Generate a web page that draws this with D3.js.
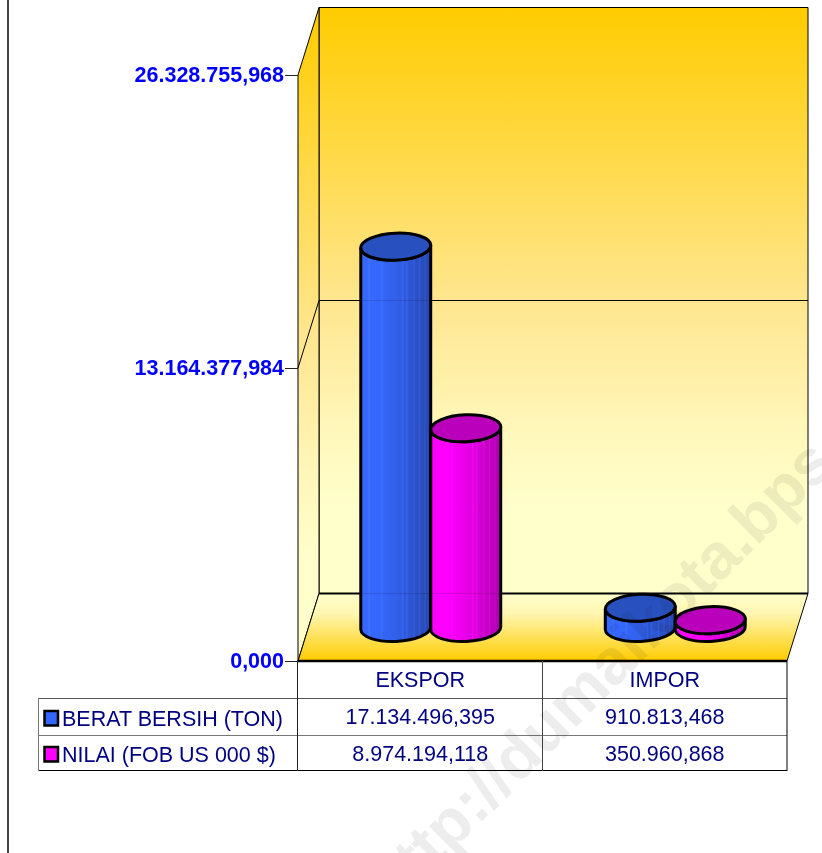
<!DOCTYPE html>
<html>
<head>
<meta charset="utf-8">
<script src="https://d3js.org/d3.v7.min.js"></script>
<style>
  html, body { margin: 0; padding: 0; background: #fff; }
  svg { display: block; }
  text { font-family: "Liberation Sans", Arial, sans-serif; }
</style>
</head>
<body>
<svg id="chart"></svg>
<script>
const categories = ["EKSPOR", "IMPOR"];
const seriesNames = ["BERAT BERSIH (TON)", "NILAI (FOB US 000 $)"];
const beratValues = [17134496395, 910813468];
const nilaiValues = [8974194118, 350960868];
const beratLabels = ["17.134.496,395", "910.813,468"];
const nilaiLabels = ["8.974.194,118", "350.960,868"];
const tickValues = [0, 13164377984, 26328755968];
const tickLabels = ["0,000", "13.164.377,984", "26.328.755,968"];

const width = 822;
const height = 853;
const front = { left: 298, right: 787, top: 75, bottom: 661 };
const depth = { x: 21, y: -67.5 };
const rx = 35, ry = 13.5, tilt = -2.5;

const svg = d3.select("#chart").attr("width", width).attr("height", height);
const defs = svg.append("defs");

const y = d3.scaleLinear().domain([0, 26328755968]).range([front.bottom, front.top]);
const x = d3.scaleBand().domain(categories).range([front.left, front.right]);
const xSeries = d3.scaleBand().domain(seriesNames).range([-2 * rx, 2 * rx]);

// background gradients
const wallGrad = defs.append("linearGradient").attr("id", "wall").attr("x2", 0).attr("y2", 1);
[[0, "#FFCC00"], [0.5, "#FFE68F"], [0.72, "#FFF7BA"], [0.86, "#FFFFCC"], [1, "#FFFFCC"]].forEach((s) => {
  wallGrad.append("stop").attr("offset", s[0]).attr("stop-color", s[1]);
});
const floorGrad = defs.append("linearGradient").attr("id", "floor").attr("x2", 0).attr("y2", 1);
floorGrad.append("stop").attr("offset", 0).attr("stop-color", "#FFFFCC");
floorGrad.append("stop").attr("offset", 0.3).attr("stop-color", "#FFF6B0");
floorGrad.append("stop").attr("offset", 1).attr("stop-color", "#FFCC00");

// cylinder body gradients, with the thin lighter strips
function bodyGradient(id, light, dark) {
  const g = defs.append("linearGradient").attr("id", id);
  const mix = d3.scaleLinear().domain([0, 0.2, 0.5, 1]).range([light, light, d3.interpolateRgb(light, dark)(0.25), dark]);
  const strips = [0.12, 0.3, 0.6, 0.66, 0.76, 0.84, 0.92];
  d3.range(0, 1.001, 0.02).forEach((t) => {
    const strip = strips.some((s) => Math.abs(s - t) < 0.005);
    const c = strip ? d3.color(mix(t)).brighter(0.35) : d3.color(mix(t));
    g.append("stop").attr("offset", t).attr("stop-color", c.formatHex());
  });
}
bodyGradient("body0", "#3668FF", "#2747AC");
bodyGradient("body1", "#FF00FF", "#AA00AA");

// walls and floor
const fl = front.left, fr = front.right, ft = front.top, fb = front.bottom;
const dx = depth.x, dy = depth.y;
const poly = (pts) => "M" + pts.map((p) => p.join(",")).join("L") + "Z";

svg.append("path").attr("d", poly([[fl + dx, ft + dy], [fr + dx, ft + dy], [fr + dx, fb + dy], [fl + dx, fb + dy]]))
  .attr("fill", "url(#wall)").attr("stroke", "#000").attr("stroke-width", 1);
svg.append("path").attr("d", poly([[fl, ft], [fl + dx, ft + dy], [fl + dx, fb + dy], [fl, fb]]))
  .attr("fill", "url(#wall)").attr("stroke", "#000").attr("stroke-width", 1);
svg.append("path").attr("d", poly([[fl, fb], [fl + dx, fb + dy], [fr + dx, fb + dy], [fr, fb]]))
  .attr("fill", "url(#floor)").attr("stroke", "#000").attr("stroke-width", 1);

// gridline at the middle tick
const gridLine = d3.line();
function drawGrid(v) {
  svg.append("path")
    .attr("d", gridLine([[fl, y(v)], [fl + dx, y(v) + dy], [fr + dx, y(v) + dy]]))
    .attr("fill", "none").attr("stroke", "#000").attr("stroke-width", 1);
}
drawGrid(tickValues[1]);

// back edge of the floor is heavier than the wall outline
svg.append("line").attr("x1", fl + dx).attr("x2", fr + dx).attr("y1", fb + dy).attr("y2", fb + dy)
  .attr("stroke", "#000").attr("stroke-width", 2);

// value axis
const axis = d3.axisLeft(y).tickValues(tickValues).tickSize(13).tickPadding(1)
  .tickFormat((d, i) => tickLabels[i]);
const axisG = svg.append("g").attr("transform", `translate(${fl},0)`).call(axis);
axisG.select(".domain").remove();
axisG.selectAll("line").attr("stroke", "#222");
axisG.selectAll("text").attr("fill", "#0000FF").attr("font-weight", "bold").attr("font-size", 21.5)
  .attr("font-family", "Liberation Sans");

// cylinders, left series first so the right one sits over the join
const rows = [
  { name: seriesNames[0], values: beratValues, idx: 0, top: "#2850BF" },
  { name: seriesNames[1], values: nilaiValues, idx: 1, top: "#BB00BB" },
];
const rad = (tilt * Math.PI) / 180;
const ex = rx * Math.cos(rad), ey = rx * Math.sin(rad);

rows.forEach((s) => {
  categories.forEach((c, i) => {
    const cx = x(c) + x.bandwidth() / 2 + dx / 2 + xSeries(s.name) + xSeries.bandwidth() / 2;
    const yBase = y(0) - 33;
    const yTop = y(s.values[i]) - 33;
    const g = svg.append("g");
    const side = `M${cx - ex},${yTop - ey}L${cx - ex},${yBase - ey}` +
      `A${rx},${ry} ${tilt} 0 0 ${cx + ex},${yBase + ey}L${cx + ex},${yTop + ey}` +
      `A${rx},${ry} ${tilt} 0 1 ${cx - ex},${yTop - ey}Z`;
    g.append("path").attr("d", side).attr("fill", `url(#body${s.idx})`)
      .attr("stroke", "#000").attr("stroke-width", 3).attr("stroke-linejoin", "round");
    g.append("ellipse").attr("rx", rx).attr("ry", ry)
      .attr("transform", `translate(${cx},${yTop}) rotate(${tilt})`)
      .attr("fill", s.top).attr("stroke", "#000").attr("stroke-width", 3);
  });
});

// the gridlines show faintly through the bars
svg.append("line").attr("x1", fl + dx).attr("x2", fr + dx).attr("y1", y(tickValues[1]) + dy).attr("y2", y(tickValues[1]) + dy)
  .attr("stroke", "#000").attr("stroke-width", 1).attr("opacity", 0.12);
svg.append("line").attr("x1", fl + dx).attr("x2", fr + dx).attr("y1", fb + dy).attr("y2", fb + dy)
  .attr("stroke", "#000").attr("stroke-width", 1).attr("opacity", 0.12);

// data table
const tableLeft = 38.5;
const table = svg.append("g");
const navy = "#000080";
const hline = (x1, x2, yy, col, w) => table.append("line").attr("x1", x1).attr("x2", x2).attr("y1", yy).attr("y2", yy).attr("stroke", col).attr("stroke-width", w);
const vline = (xx, y1, y2, col, w) => table.append("line").attr("x1", xx).attr("x2", xx).attr("y1", y1).attr("y2", y2).attr("stroke", col).attr("stroke-width", w);

hline(fl, fr, 661, "#000", 2.5);
hline(tableLeft, fr, 698.5, "#555", 1);
hline(tableLeft, fr, 735.5, "#777", 1);
hline(tableLeft, fr, 770.5, "#000", 1);
vline(tableLeft, 698, 771, "#777", 1);
vline(297.5, 661, 771, "#222", 1);
vline(542.5, 661, 771, "#444", 1);
vline(787, 661, 771, "#000", 1);

const cellText = (tx, ty, str, anchor) => table.append("text").attr("x", tx).attr("y", ty).attr("fill", navy)
  .attr("font-size", 21.5).attr("text-anchor", anchor).text(str);

categories.forEach((c, i) => {
  const cx = x(c) + x.bandwidth() / 2;
  cellText(cx, 687, c, "middle");
  cellText(cx, 724, beratLabels[i], "middle");
  cellText(cx, 761, nilaiLabels[i], "middle");
});

// legend keys in the first column
const keyFill = ["#3366FF", "#FF00FF"];
const keyY = [711, 747];
const textY = [726, 762];
seriesNames.forEach((n, i) => {
  table.append("rect").attr("x", 44.5).attr("y", keyY[i]).attr("width", 13.5).attr("height", 14.5)
    .attr("fill", keyFill[i]).attr("stroke", "#000").attr("stroke-width", 2.5);
  cellText(62, textY[i], n, "start");
});

// page rule on the left
svg.append("line").attr("x1", 8).attr("x2", 8).attr("y1", 0).attr("y2", height)
  .attr("stroke", "#444").attr("stroke-width", 2);

// watermark
svg.append("text").attr("transform", "translate(392,911) rotate(-45)")
  .attr("font-size", 64).attr("font-weight", "bold").attr("fill", "#EDEDED")
  .style("mix-blend-mode", "multiply")
  .text("http://dumaikota.bps.go.id");
</script>
</body>
</html>
